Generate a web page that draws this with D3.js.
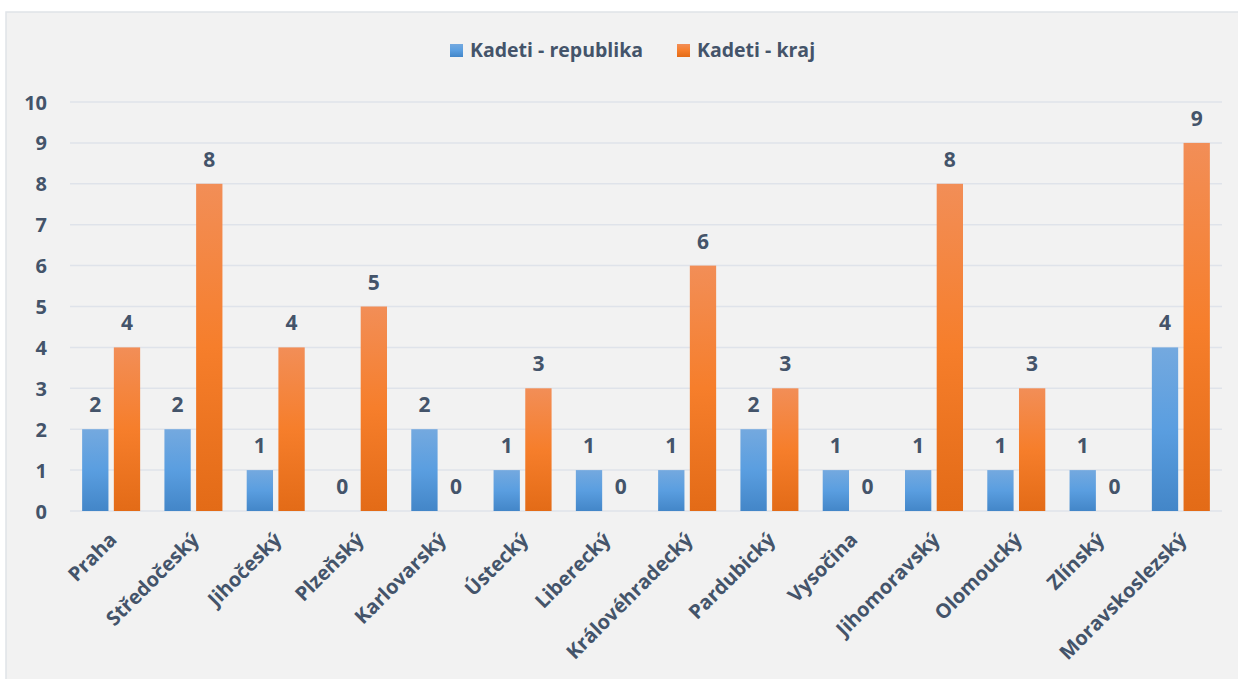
<!DOCTYPE html>
<html><head><meta charset="utf-8">
<script src="https://cdn.jsdelivr.net/npm/d3@7"></script>
<style>
html,body{margin:0;padding:0;background:#fff;}
svg{display:block;}
text{font-family:"Open Sans","Noto Sans",sans-serif;font-weight:700;fill:#44546a;}
</style></head>
<body><svg id="c" width="1238" height="679"></svg>
<script>
const categories = ["Praha","Středočeský","Jihočeský","Plzeňský","Karlovarský","Ústecký","Liberecký","Královéhradecký","Pardubický","Vysočina","Jihomoravský","Olomoucký","Zlínský","Moravskoslezský"];
const seriesNames = ["Kadeti - republika","Kadeti - kraj"];
const republika = [2,2,1,0,2,1,1,1,2,1,1,1,1,4];
const kraj = [4,8,4,5,0,3,0,6,3,0,8,3,0,9];
const yTicks = [0,1,2,3,4,5,6,7,8,9,10];

const svg = d3.select("#c");
const W = 1238, H = 679;
const m = {left:70, right:16, top:102, bottom:168};

const defs = svg.append("defs");
function grad(id, stops){
  const g = defs.append("linearGradient").attr("id",id).attr("x1",0).attr("y1",0).attr("x2",0).attr("y2",1);
  stops.forEach(s=>g.append("stop").attr("offset",s[0]).attr("stop-color",s[1]));
}
grad("gB",[[0,"#74a9df"],[0.5,"#5a9ee0"],[1,"#4386c8"]]);
grad("gO",[[0,"#f28e57"],[0.5,"#f67e2b"],[1,"#e36b17"]]);
const fills = ["url(#gB)","url(#gO)"];

svg.append("rect").attr("x",6).attr("y",12).attr("width",W).attr("height",H)
  .attr("fill","#f2f2f2").attr("stroke","#dfe3e8").attr("stroke-width",1.5);

const x0 = d3.scaleBand().domain(categories).range([m.left, W-m.right]).paddingInner(0.295).paddingOuter(0.1475);
const x1 = d3.scaleBand().domain([0,1]).range([0, x0.bandwidth()]).paddingInner(0.17);
const y = d3.scaleLinear().domain([0,10]).range([511,102]);

// gridlines
svg.append("g").selectAll("line").data(yTicks).join("line")
  .attr("x1",m.left).attr("x2",W-m.right)
  .attr("y1",d=>y(d)).attr("y2",d=>y(d))
  .attr("stroke","#dfe3ea").attr("stroke-width",1.5);

// y axis labels
const yAxis = d3.axisLeft(y).tickValues(yTicks).tickSize(0).tickPadding(0).tickFormat(d3.format("d"));
const ya = svg.append("g").attr("transform","translate(47,0)").call(yAxis);
ya.select(".domain").remove();
ya.selectAll("text").attr("font-size",20).attr("fill","#44546a").attr("dy","0.35em")
  .style("font-family",'"Open Sans","Noto Sans",sans-serif').style("font-weight",700);

const data = categories.map((c,i)=>({c, v:[republika[i], kraj[i]]}));

const groups = svg.append("g").selectAll("g").data(data).join("g")
  .attr("transform",d=>`translate(${x0(d.c)},0)`);

groups.selectAll("rect").data(d=>d.v.map((v,k)=>({v,k}))).join("rect")
  .attr("x",d=>x1(d.k)).attr("width",x1.bandwidth())
  .attr("y",d=>y(d.v)).attr("height",d=>y(0)-y(d.v))
  .attr("fill",d=>fills[d.k]);

groups.selectAll("text.val").data(d=>d.v.map((v,k)=>({v,k}))).join("text")
  .attr("class","val")
  .attr("x",d=>x1(d.k)+x1.bandwidth()/2)
  .attr("y",d=>y(d.v)-17)
  .attr("text-anchor","middle").attr("font-size",21)
  .text(d=>d.v);

// x axis
const xAxis = d3.axisBottom(x0).tickSize(0).tickPadding(0);
const xa = svg.append("g").attr("transform",`translate(0,${y(0)})`).call(xAxis);
xa.select(".domain").remove();
xa.selectAll(".tick text")
  .attr("font-size",20).attr("fill","#44546a")
  .style("font-family",'"Open Sans","Noto Sans",sans-serif').style("font-weight",700)
  .attr("text-anchor","end").attr("dy",0).attr("y",0)
  .attr("transform","translate(7,30) rotate(-45)");

// legend
const legend = svg.append("g");
const lx = [450, 677];
seriesNames.forEach((n,i)=>{
  legend.append("rect").attr("x",lx[i]).attr("y",44).attr("width",13).attr("height",13).attr("fill",fills[i]);
  legend.append("text").attr("x",lx[i]+20).attr("y",57).attr("font-size",19.5).text(n);
});
</script></body></html>
